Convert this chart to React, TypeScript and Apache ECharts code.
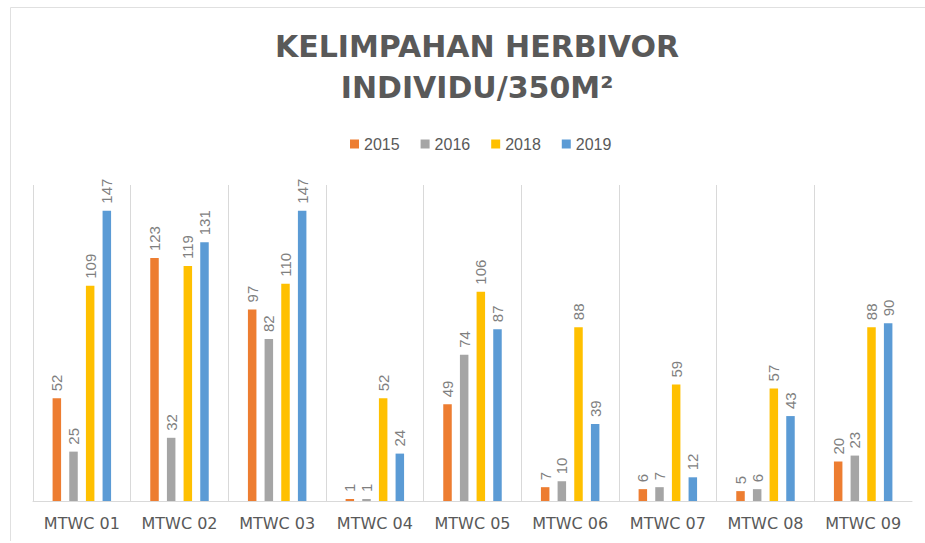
import React, { useEffect, useRef } from "react";
import * as echarts from "echarts";

const categories = ["MTWC 01", "MTWC 02", "MTWC 03", "MTWC 04", "MTWC 05", "MTWC 06", "MTWC 07", "MTWC 08", "MTWC 09"];
const years = ["2015", "2016", "2018", "2019"];
const v2015 = [52, 123, 97, 1, 49, 7, 6, 5, 20];
const v2016 = [25, 32, 82, 1, 74, 10, 7, 6, 23];
const v2018 = [109, 119, 110, 52, 106, 88, 59, 57, 88];
const v2019 = [147, 131, 147, 24, 87, 39, 12, 43, 90];
const colors = ["#ED7D31", "#A5A5A5", "#FFC000", "#5B9BD5"];

export default function App() {
  const ref = useRef<HTMLDivElement>(null);
  useEffect(() => {
    if (!ref.current) return;
    const chart = echarts.init(ref.current, null, { renderer: "svg" });
    const seriesData = [v2015, v2016, v2018, v2019];
    chart.setOption({
      animation: false,
      backgroundColor: "#ffffff",
      title: {
        text: "KELIMPAHAN HERBIVOR\nINDIVIDU/350M²",
        left: 472,
        textAlign: "center",
        top: 21,
        textStyle: {
          fontFamily: "DejaVu Sans",
          fontWeight: "bold",
          fontSize: 30,
          lineHeight: 41,
          color: "#595959",
        },
      },
      legend: {
        data: years,
        left: 345,
        top: 131,
        itemWidth: 9,
        itemHeight: 9,
        itemGap: 21,
        icon: "rect",
        textStyle: { fontFamily: "Liberation Sans", fontSize: 16, color: "#595959" },
      },
      grid: { left: 33, right: 13, top: 185, bottom: 42 },
      xAxis: {
        type: "category",
        data: categories,
        axisLine: { lineStyle: { color: "#d9d9d9", width: 1 } },
        axisTick: { show: false, interval: 0 },
        axisLabel: { interval: 0, color: "#595959", fontFamily: "DejaVu Sans", fontSize: 16, margin: 14 },
        splitLine: { show: true, interval: 0, showMaxLine: false, lineStyle: { color: "#d9d9d9", width: 1 } },
      },
      yAxis: {
        type: "value",
        min: 0,
        max: 160,
        show: false,
        splitLine: { show: false },
      },
      graphic: [
        { type: "line", shape: { x1: 10.5, y1: 7.5, x2: 925, y2: 7.5 }, style: { stroke: "#e0e0e0", lineWidth: 1 } },
        { type: "line", shape: { x1: 10.5, y1: 7.5, x2: 10.5, y2: 541 }, style: { stroke: "#e0e0e0", lineWidth: 1 } },
      ],
      series: years.map((y, i) => ({
        name: y,
        type: "bar",
        data: seriesData[i],
        barWidth: 8.5,
        barGap: "96%",
        itemStyle: { color: colors[i] },
        label: {
          show: true,
          position: "top",
          rotate: 90,
          align: "left",
          verticalAlign: "middle",
          distance: 7,
          color: "#7f7f7f",
          fontFamily: "Liberation Sans",
          fontSize: 15,
        },
      })),
    });
    return () => chart.dispose();
  }, []);
  return <div ref={ref} style={{ position: "absolute", left: 0, top: 0, width: 925, height: 543 }} />;
}
